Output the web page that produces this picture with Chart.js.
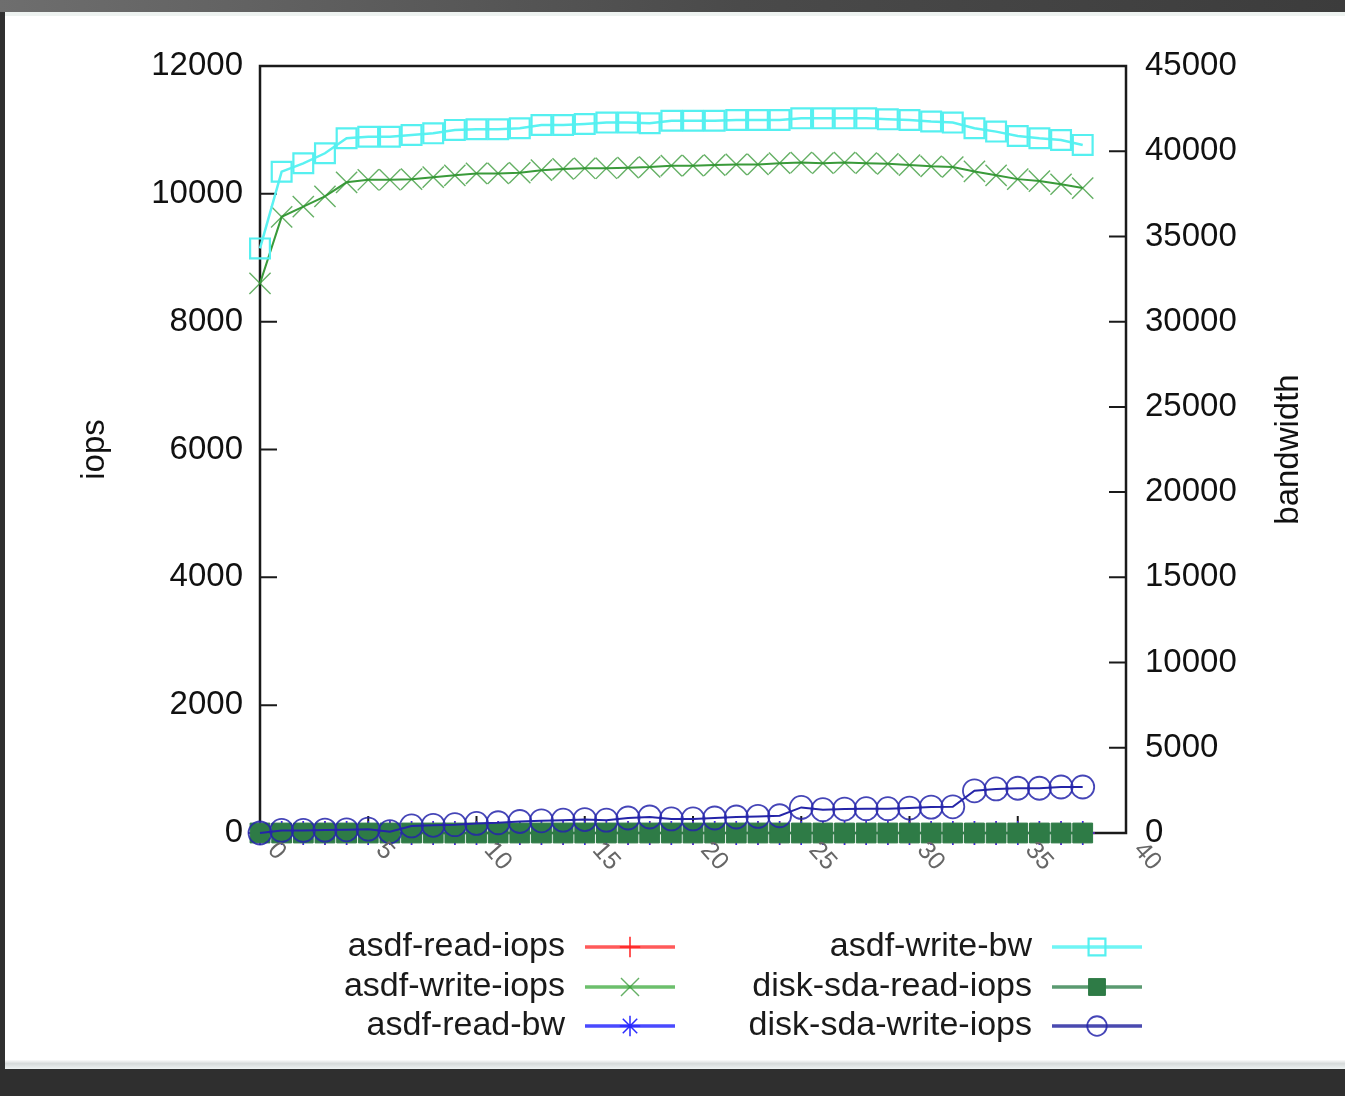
<!DOCTYPE html>
<html>
<head>
<meta charset="utf-8">
<script src="https://cdn.jsdelivr.net/npm/chart.js@4.4.1/dist/chart.umd.min.js"></script>
<style>
  html, body { margin: 0; padding: 0; }
  body { width: 1345px; height: 1096px; background: #2f2f2f; position: relative; overflow: hidden; }
  .topbar { position: absolute; left: 0; top: 0; width: 1345px; height: 12px; background: linear-gradient(to right, #6e6e6e, #4a4a4a 55%, #3c3c3c); }
  .strip { position: absolute; left: 5px; top: 12px; width: 1340px; height: 4px; background: #edf2f0; }
  .page { position: absolute; left: 5px; top: 16px; width: 1340px; height: 1044px; background: #fff; }
  .bottomline { position: absolute; left: 5px; top: 1060px; width: 1340px; height: 9px; background: linear-gradient(#fafafa, #d6dada 40%, #eef2f2); }
  canvas { position: absolute; left: 0; top: 0; }
</style>
</head>
<body>
<div class="topbar"></div>
<div class="strip"></div>
<div class="page"></div>
<div class="bottomline"></div>
<canvas id="io-graph" width="1345" height="1096"></canvas>
<script>
const xValues = [0, 1, 2, 3, 4, 5, 6, 7, 8, 9, 10, 11, 12, 13, 14, 15, 16, 17, 18, 19,
  20, 21, 22, 23, 24, 25, 26, 27, 28, 29, 30, 31, 32, 33, 34, 35, 36, 37, 38];

const asdfReadIops = [0, 0, 0, 0, 0, 0, 0, 0, 0, 0, 0, 0, 0, 0, 0, 0, 0, 0, 0, 0,
  0, 0, 0, 0, 0, 0, 0, 0, 0, 0, 0, 0, 0, 0, 0, 0, 0, 0, 0];
const asdfWriteIops = [8600, 9640, 9800, 9960, 10180, 10220, 10220, 10230, 10260, 10290,
  10320, 10320, 10330, 10370, 10390, 10400, 10400, 10410, 10420, 10440,
  10440, 10450, 10460, 10460, 10480, 10490, 10480, 10490, 10480, 10470,
  10450, 10430, 10420, 10350, 10290, 10230, 10200, 10150, 10090];
const asdfReadBw = [0, 0, 0, 0, 0, 0, 0, 0, 0, 0, 0, 0, 0, 0, 0, 0, 0, 0, 0, 0,
  0, 0, 0, 0, 0, 0, 0, 0, 0, 0, 0, 0, 0, 0, 0, 0, 0, 0, 0];
const asdfWriteBw = [34300, 38800, 39290, 39880, 40760, 40850, 40850, 40950, 41050, 41250,
  41290, 41290, 41350, 41540, 41540, 41600, 41680, 41680, 41640, 41790,
  41790, 41790, 41830, 41830, 41830, 41930, 41930, 41930, 41930, 41870,
  41830, 41740, 41680, 41350, 41150, 40890, 40760, 40660, 40370];
const diskSdaReadIops = [0, 0, 0, 0, 0, 0, 0, 0, 0, 0, 0, 0, 0, 0, 0, 0, 0, 0, 0, 0,
  0, 0, 0, 0, 0, 0, 0, 0, 0, 0, 0, 0, 0, 0, 0, 0, 0, 0, 0];
const diskSdaWriteIops = [0, 40, 40, 45, 50, 60, 20, 110, 120, 130,
  150, 160, 180, 190, 200, 210, 200, 235, 250, 220,
  220, 235, 250, 260, 270, 400, 365, 375, 380, 380,
  390, 405, 410, 660, 690, 700, 700, 720, 720];

const xTickLabels = ['0', '5', '10', '15', '20', '25', '30', '35', '40'];
const xTickValues = [0, 5, 10, 15, 20, 25, 30, 35, 40];
const leftTitle = 'iops';
const rightTitle = 'bandwidth';

const FONT = '"Liberation Sans", Arial, Helvetica, sans-serif';

function toPoints(values) {
  return xValues.map((x, i) => ({ x, y: values[i] }));
}

// legend entries in gnuplot's two-column order
const legendColumns = [[0, 1, 2], [3, 4, 5]];

function drawMarker(ctx, ds, x, y) {
  ctx.fillStyle = ds.pointBackgroundColor;
  ctx.strokeStyle = ds.pointBorderColor;
  ctx.lineWidth = ds.pointBorderWidth;
  Chart.helpers.drawPoint(ctx, {
    pointStyle: ds.pointStyle,
    radius: ds.pointRadius * 0.85,
    borderWidth: ds.pointBorderWidth,
    rotation: 0
  }, x, y);
}

const gnuplotDecor = {
  id: 'gnuplotDecor',
  beforeDatasetsDraw(chart) {
    const { ctx, chartArea: a, scales } = chart;
    ctx.save();
    ctx.strokeStyle = '#1a1a1a';
    ctx.lineWidth = 2;
    // inward ticks
    ctx.beginPath();
    scales.y.ticks.forEach((t) => {
      const py = scales.y.getPixelForValue(t.value);
      ctx.moveTo(a.left, py);
      ctx.lineTo(a.left + 17, py);
    });
    scales.y2.ticks.forEach((t) => {
      const py = scales.y2.getPixelForValue(t.value);
      ctx.moveTo(a.right, py);
      ctx.lineTo(a.right - 17, py);
    });
    xTickValues.forEach((v) => {
      const px = scales.x.getPixelForValue(v);
      ctx.moveTo(px, a.bottom);
      ctx.lineTo(px, a.bottom - 17);
    });
    ctx.stroke();
    ctx.lineWidth = 2.5;
    ctx.strokeRect(a.left, a.top, a.right - a.left, a.bottom - a.top);
    ctx.restore();
  },
  afterDraw(chart) {
    const { ctx, chartArea: a, scales } = chart;
    ctx.save();
    // rotated x tick labels
    ctx.font = '25px ' + FONT;
    ctx.fillStyle = '#666';
    ctx.textAlign = 'left';
    ctx.textBaseline = 'middle';
    xTickValues.forEach((v, i) => {
      const px = scales.x.getPixelForValue(v);
      ctx.save();
      ctx.translate(px + 12, a.bottom + 13);
      ctx.rotate(Math.PI * 0.27);
      ctx.fillText(xTickLabels[i], 0, 0);
      ctx.restore();
    });

    // axis titles
    ctx.font = '33px ' + FONT;
    ctx.fillStyle = '#111';
    ctx.textAlign = 'center';
    ctx.textBaseline = 'middle';
    const midY = (a.top + a.bottom) / 2;
    ctx.save();
    ctx.translate(95, midY);
    ctx.rotate(-Math.PI / 2);
    ctx.fillText(leftTitle, 0, 0);
    ctx.restore();
    ctx.save();
    ctx.translate(1289, midY);
    ctx.rotate(-Math.PI / 2);
    ctx.fillText(rightTitle, 0, 0);
    ctx.restore();

    // legend
    const colText = [565, 1032];
    const rowY = [947, 987, 1026];
    legendColumns.forEach((col, c) => {
      col.forEach((dsIndex, r) => {
        const ds = chart.data.datasets[dsIndex];
        const y = rowY[r];
        const x0 = colText[c];
        ctx.font = '34px ' + FONT;
        ctx.fillStyle = '#1a1a1a';
        ctx.textAlign = 'right';
        ctx.textBaseline = 'middle';
        ctx.fillText(ds.label, x0, y);
        ctx.strokeStyle = ds.legendLine;
        ctx.lineWidth = 3.5;
        ctx.beginPath();
        ctx.moveTo(x0 + 20, y);
        ctx.lineTo(x0 + 110, y);
        ctx.stroke();
        drawMarker(ctx, ds, x0 + 65, y);
      });
    });
    ctx.restore();
  }
};

const plainTicks = (v) => String(v);

const ioChart = new Chart(document.getElementById('io-graph'), {
  type: 'line',
  data: {
    datasets: [
      {
        label: 'asdf-read-iops',
        data: toPoints(asdfReadIops),
        yAxisID: 'y',
        borderColor: '#ff2020',
        legendLine: '#ff5a5a',
        borderWidth: 2,
        pointStyle: 'cross',
        pointRadius: 12,
        pointBorderWidth: 1.5,
        pointBorderColor: '#ff2020',
        pointBackgroundColor: 'rgba(0,0,0,0)',
        order: 6
      },
      {
        label: 'asdf-write-iops',
        data: toPoints(asdfWriteIops),
        yAxisID: 'y',
        borderColor: '#3a9a3a',
        legendLine: '#6cbf6c',
        borderWidth: 2,
        pointStyle: 'crossRot',
        pointRadius: 15,
        pointBorderWidth: 1.4,
        pointBorderColor: 'rgba(50,150,50,0.75)',
        pointBackgroundColor: 'rgba(0,0,0,0)',
        order: 5
      },
      {
        label: 'asdf-read-bw',
        data: toPoints(asdfReadBw),
        yAxisID: 'y2',
        borderColor: '#2a2aff',
        legendLine: '#4a4aff',
        borderWidth: 2,
        pointStyle: 'star',
        pointRadius: 12,
        pointBorderWidth: 1.5,
        pointBorderColor: '#2a2aff',
        pointBackgroundColor: 'rgba(0,0,0,0)',
        order: 4
      },
      {
        label: 'asdf-write-bw',
        data: toPoints(asdfWriteBw),
        yAxisID: 'y2',
        borderColor: '#5af2f2',
        legendLine: '#6ff5f5',
        borderWidth: 2.5,
        pointStyle: 'rect',
        pointRadius: 14,
        pointBorderWidth: 2.2,
        pointBorderColor: '#55f0f0',
        pointBackgroundColor: 'rgba(0,0,0,0)',
        order: 3
      },
      {
        label: 'disk-sda-read-iops',
        data: toPoints(diskSdaReadIops),
        yAxisID: 'y',
        borderColor: '#2e7b46',
        legendLine: '#5a9a70',
        borderWidth: 2,
        pointStyle: 'rect',
        pointRadius: 14,
        pointBorderWidth: 1,
        pointBorderColor: '#2e7b46',
        pointBackgroundColor: '#2e7b46',
        order: 2
      },
      {
        label: 'disk-sda-write-iops',
        data: toPoints(diskSdaWriteIops),
        yAxisID: 'y',
        borderColor: '#2424a8',
        legendLine: '#4a4ab0',
        borderWidth: 2,
        pointStyle: 'circle',
        pointRadius: 11.5,
        pointBorderWidth: 1.8,
        pointBorderColor: 'rgba(36,36,170,0.85)',
        pointBackgroundColor: 'rgba(0,0,0,0)',
        order: 1
      }
    ]
  },
  options: {
    responsive: false,
    animation: false,
    clip: false,
    layout: { padding: { top: 66, left: 0, right: 0, bottom: 0 } },
    plugins: {
      legend: { display: false },
      tooltip: { enabled: false }
    },
    elements: { line: { tension: 0 } },
    scales: {
      x: {
        type: 'linear',
        min: 0,
        max: 40,
        grid: { display: false, drawTicks: false },
        border: { display: false },
        ticks: { display: false, stepSize: 5 },
        afterFit: (s) => { s.height = 1096 - 833; }
      },
      y: {
        position: 'left',
        min: 0,
        max: 12000,
        grid: { display: false, drawTicks: false },
        border: { display: false },
        ticks: {
          stepSize: 2000,
          padding: 17,
          color: '#111',
          font: { family: FONT, size: 33 },
          callback: plainTicks
        },
        afterFit: (s) => { s.width = 260; }
      },
      y2: {
        position: 'right',
        min: 0,
        max: 45000,
        grid: { display: false, drawTicks: false },
        border: { display: false },
        ticks: {
          stepSize: 5000,
          padding: 19,
          color: '#111',
          font: { family: FONT, size: 33 },
          callback: plainTicks
        },
        afterFit: (s) => { s.width = 1345 - 1126; }
      }
    }
  },
  plugins: [gnuplotDecor]
});
</script>
</body>
</html>
